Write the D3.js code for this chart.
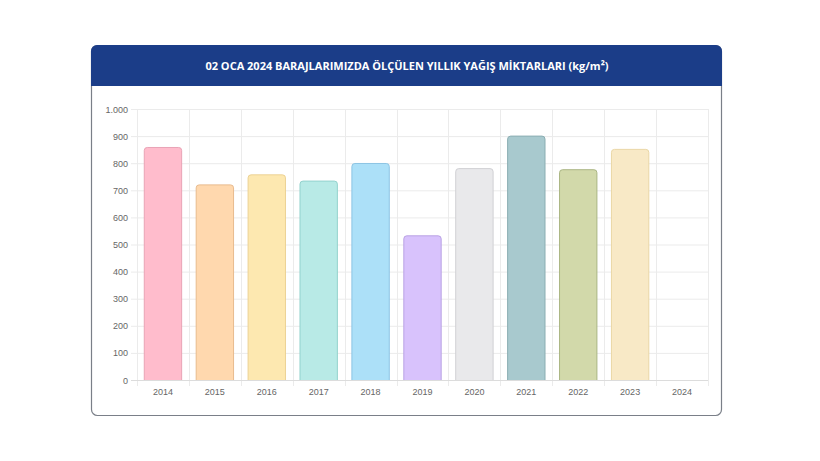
<!DOCTYPE html>
<html><head><meta charset="utf-8">
<script src="https://cdn.jsdelivr.net/npm/d3@7"></script>
<style>body{margin:0;background:#fff;}svg{display:block;font-family:"Open Sans",Lato,sans-serif;}</style>
</head><body>
<svg id="c" width="820" height="461"></svg>
<script>
const years = ["2014","2015","2016","2017","2018","2019","2020","2021","2022","2023","2024"];
const values = [858, 720, 757, 734, 799, 532, 780, 900, 776, 851, null];
const fills = ["#ffbccc","#ffd8ae","#fde8b0","#b8eae6","#ace0f8","#d8c2fc","#e9e9eb","#a8c9ce","#d2d9aa","#f8e9c6","#ffffff"];
const strokes = ["#e9a3b5","#e8bb8e","#ecd294","#93d2cd","#8cc4e4","#b9a2e4","#d0d0d4","#8aadb2","#aab583","#ead7a6","#ffffff"];
const yTicks = [0,100,200,300,400,500,600,700,800,900,1000];
const title = "02 OCA 2024 BARAJLARIMIZDA ÖLÇÜLEN YILLIK YAĞIŞ MİKTARLARI (kg/m²)";

const svg = d3.select("#c");
// card
svg.append("rect").attr("x",91.5).attr("y",45.5).attr("width",630).attr("height",370).attr("rx",6)
  .attr("fill","#fff").attr("stroke","#7a7f88").attr("stroke-width",1.2);
// header
const hp = d3.path();
const hx=91,hy=45,hw=631,hh=41,r=6;
hp.moveTo(hx,hy+hh); hp.lineTo(hx,hy+r); hp.arcTo(hx,hy,hx+r,hy,r); hp.lineTo(hx+hw-r,hy); hp.arcTo(hx+hw,hy,hx+hw,hy+r,r); hp.lineTo(hx+hw,hy+hh); hp.closePath();
svg.append("path").attr("d",hp.toString()).attr("fill","#1b3d88");
svg.append("text").attr("x",407).attr("y",70).attr("text-anchor","middle").attr("fill","#fff")
  .attr("font-size",11).attr("font-weight","bold").text(title);

const x = d3.scaleBand().domain(years).range([137,708]).paddingInner(0).paddingOuter(0);
const y = d3.scaleLinear().domain([0,1000]).range([380,109]);

const g = svg.append("g");
// horizontal grid
g.selectAll("line.h").data(yTicks).join("line").attr("class","h")
  .attr("x1",131).attr("x2",708).attr("y1",d=>y(d)+0.5).attr("y2",d=>y(d)+0.5)
  .attr("stroke","#ebebeb").attr("stroke-width",1);
// vertical grid
const vx = years.map(d=>x(d)).concat([x.range()[1]]);
g.selectAll("line.v").data(vx).join("line").attr("class","v")
  .attr("x1",d=>Math.round(d)+0.5).attr("x2",d=>Math.round(d)+0.5).attr("y1",109).attr("y2",386)
  .attr("stroke","#ebebeb").attr("stroke-width",1);
// baseline
g.append("line").attr("x1",131).attr("x2",708).attr("y1",380.5).attr("y2",380.5).attr("stroke","#dcdcdc");

// y labels
g.selectAll("text.y").data(yTicks).join("text").attr("class","y")
  .attr("x",128).attr("y",d=>y(d)+3.5).attr("text-anchor","end").attr("font-size",9).attr("fill","#666")
  .attr("font-family","'Liberation Sans',Arial,sans-serif")
  .text(d=>d3.format(",")(d).replace(",","."));
// x labels
g.selectAll("text.x").data(years).join("text").attr("class","x")
  .attr("x",d=>x(d)+x.bandwidth()/2).attr("y",395).attr("text-anchor","middle").attr("font-size",9).attr("fill","#666")
  .attr("font-family","'Liberation Sans',Arial,sans-serif")
  .text(d=>d);

// bars
const bw = x.bandwidth()*0.72;
const data = years.map((d,i)=>({year:d,v:values[i],i}));
g.selectAll("path.bar").data(data.filter(d=>d.v!=null)).join("path").attr("class","bar")
  .attr("d",d=>{
    const x0 = x(d.year)+(x.bandwidth()-bw)/2, x1=x0+bw, y0=y(d.v), y1=y(0), rr=3;
    const p=d3.path(); p.moveTo(x0,y1); p.lineTo(x0,y0+rr); p.arcTo(x0,y0,x0+rr,y0,rr); p.lineTo(x1-rr,y0); p.arcTo(x1,y0,x1,y0+rr,rr); p.lineTo(x1,y1); return p.toString();
  })
  .attr("fill",d=>fills[d.i]).attr("stroke",d=>strokes[d.i]).attr("stroke-width",1);
</script>
</body></html>
